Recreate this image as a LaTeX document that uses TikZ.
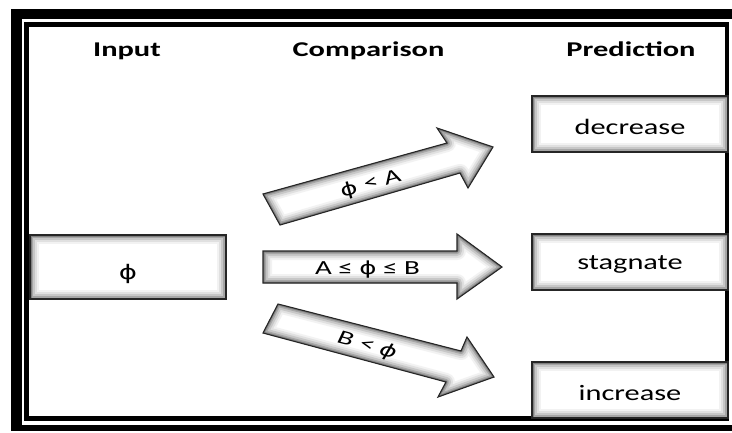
\documentclass[tikz,border=0pt]{standalone}
\usepackage{fontspec}
\setmainfont{Carlito}
\newfontfamily\phifont{DejaVu Sans}
\usepackage{graphicx}
\newcommand\glowrect{%
  \draw[line width=18pt,black!5] (path picture bounding box.south west) rectangle (path picture bounding box.north east);
  \draw[line width=14pt,black!12] (path picture bounding box.south west) rectangle (path picture bounding box.north east);
  \draw[line width=10pt,black!22] (path picture bounding box.south west) rectangle (path picture bounding box.north east);
  \draw[line width=6pt,black!35] (path picture bounding box.south west) rectangle (path picture bounding box.north east);
  \draw[line width=3pt,black!50] (path picture bounding box.south west) rectangle (path picture bounding box.north east);}
\newcommand\glowshape[1]{%
  \fill[white] #1;
  \begin{scope}
    \clip #1;
    \draw[line width=18pt,black!5,line join=round] #1;
    \draw[line width=14pt,black!12,line join=round] #1;
    \draw[line width=10pt,black!22,line join=round] #1;
    \draw[line width=6pt,black!35,line join=round] #1;
    \draw[line width=3pt,black!50,line join=round] #1;
  \end{scope}
  \draw[line width=1.1pt,black!85,line join=miter] #1;}
\newcommand\sx[1]{\scalebox{1.38}[1]{#1}}
\newcommand\ax[1]{\scalebox{1.45}[1]{#1}}
\newcommand\hx[1]{\scalebox{1.45}[1]{#1}}
\newcommand\ph{{\phifont\fontsize{18}{21}\selectfont ϕ}}
\begin{document}
\begin{tikzpicture}[x=1pt,y=-1pt,
  glowbox/.style={draw=black!85, line width=1.1pt, fill=white,
    minimum width=196pt, minimum height=56pt, inner sep=0pt,
    text height=20pt, text depth=0pt,
    font=\fontsize{22}{26}\selectfont, path picture={\glowrect}},
  head/.style={font=\bfseries\fontsize{21}{25}\selectfont, anchor=base},
  arrowtext/.style={font=\fontsize{20}{24}\selectfont}]
\useasboundingbox (0,0) rectangle (732,432);
% frame
\fill[black] (11,9) rectangle (760,431);
\fill[white] (22,19) rectangle (760,425);
\draw[line width=4.5pt] (26.5,24.5) rectangle (727,418.5);
% headings
\node[head] (hin) at (127,56) {\hx{Input}};
\node[head] (hcmp) at (368.5,56) {\hx{Comparison}};
\node[head] (hpred) at (631,56) {\hx{Prediction}};
% boxes
\node[glowbox, minimum height=64pt, text height=24pt] (in) at (128,267) {\sx{{\phifont\fontsize{20}{24}\selectfont ϕ}}};
\node[glowbox] (dec) at (630,124) {\sx{decrease}};
\node[glowbox, text height=14pt] (stag) at (630,262) {\sx{stagnate}};
\node[glowbox] (inc) at (630,390) {\sx{increase}};
% block arrows
\glowshape{(263,194) -- (447,143) -- (437,128) -- (493,147) -- (468,188) -- (460,173) -- (280,225) -- cycle}
\glowshape{(263,251) -- (457,251) -- (457,234) -- (502,267) -- (457,299) -- (457,283) -- (263,283) -- cycle}
\glowshape{(278,304) -- (461,351) -- (467,337) -- (494,377) -- (438,397) -- (446,382) -- (263,333) -- cycle}
\node[arrowtext, rotate=15.5] (tup) at (371,184) {\ax{\ph\ < A}};
\node[arrowtext, anchor=base] (tmid) at (367.5,274) {\ax{A ≤ \ph\ ≤ B}};
\node[arrowtext, rotate=-15, font=\itshape\fontsize{20}{24}\selectfont] (tlow) at (367,346) {\ax{B < {\phifont\itshape\fontsize{18}{21}\selectfont ϕ}}};
\end{tikzpicture}
\end{document}
